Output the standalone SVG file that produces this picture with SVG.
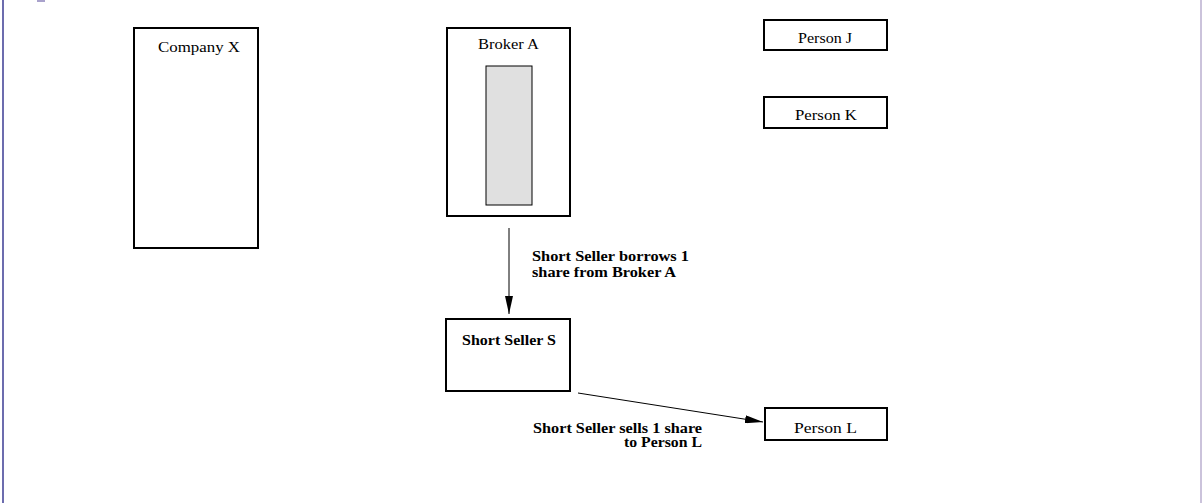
<svg xmlns="http://www.w3.org/2000/svg" width="1202" height="503" viewBox="0 0 1202 503">
<style>
.box{fill:#fff;stroke:#000;stroke-width:2}
.t{font-family:"Liberation Serif","DejaVu Serif",serif;font-size:15px;fill:#000}
.b{font-family:"Liberation Serif","DejaVu Serif",serif;font-size:14px;font-weight:bold;fill:#000}
.c{stroke:#000;stroke-width:1;fill:none}
</style>
<defs>
<marker id="ah" viewBox="0 0 18 8" refX="18" refY="4" markerWidth="18" markerHeight="8" markerUnits="userSpaceOnUse" orient="auto">
<path d="M0,0 L18,4 L0,8 z" fill="#000"/>
</marker>
</defs>
<rect x="0" y="0" width="1202" height="503" fill="#fff"/>
<rect x="2" y="0" width="2" height="503" fill="#6c6cae"/>
<rect x="1200" y="0" width="2" height="503" fill="#cbc3db"/>
<rect x="37" y="0" width="8" height="2" fill="#a9a2cc"/>
<g id="company-x">
<rect class="box" x="134" y="28" width="124" height="220"/>
<text class="t" x="158" y="52" textLength="82" lengthAdjust="spacingAndGlyphs">Company X</text>
</g>
<g id="broker-a">
<rect class="box" x="447" y="28" width="123" height="188"/>
<text class="t" x="478" y="49" textLength="61" lengthAdjust="spacingAndGlyphs">Broker A</text>
<rect x="486" y="66" width="46" height="139" fill="#e0e0e0" stroke="#000" stroke-width="1"/>
</g>
<g id="person-j">
<rect class="box" x="764" y="20" width="123" height="30"/>
<text class="t" x="798" y="43" textLength="54" lengthAdjust="spacingAndGlyphs">Person J</text>
</g>
<g id="person-k">
<rect class="box" x="764" y="97" width="123" height="31"/>
<text class="t" x="795" y="120" textLength="62" lengthAdjust="spacingAndGlyphs">Person K</text>
</g>
<g id="short-seller-s">
<rect class="box" x="446" y="319" width="124" height="72"/>
<text class="b" x="462" y="345" textLength="94" lengthAdjust="spacingAndGlyphs">Short Seller S</text>
</g>
<g id="person-l">
<rect class="box" x="765" y="408" width="122" height="32"/>
<text class="t" x="794" y="433" textLength="63" lengthAdjust="spacingAndGlyphs">Person L</text>
</g>
<g id="connectors">
<line class="c" x1="509" y1="228" x2="509" y2="314" marker-end="url(#ah)"/>
<line class="c" x1="578" y1="393" x2="763" y2="422" marker-end="url(#ah)"/>
<text class="b" x="532" y="261" textLength="157" lengthAdjust="spacingAndGlyphs">Short Seller borrows 1</text>
<text class="b" x="532" y="277" textLength="144" lengthAdjust="spacingAndGlyphs">share from Broker A</text>
<text class="b" x="533" y="433" textLength="169" lengthAdjust="spacingAndGlyphs">Short Seller sells 1 share</text>
<text class="b" x="624" y="447" textLength="78" lengthAdjust="spacingAndGlyphs">to Person L</text>
</g>
</svg>
